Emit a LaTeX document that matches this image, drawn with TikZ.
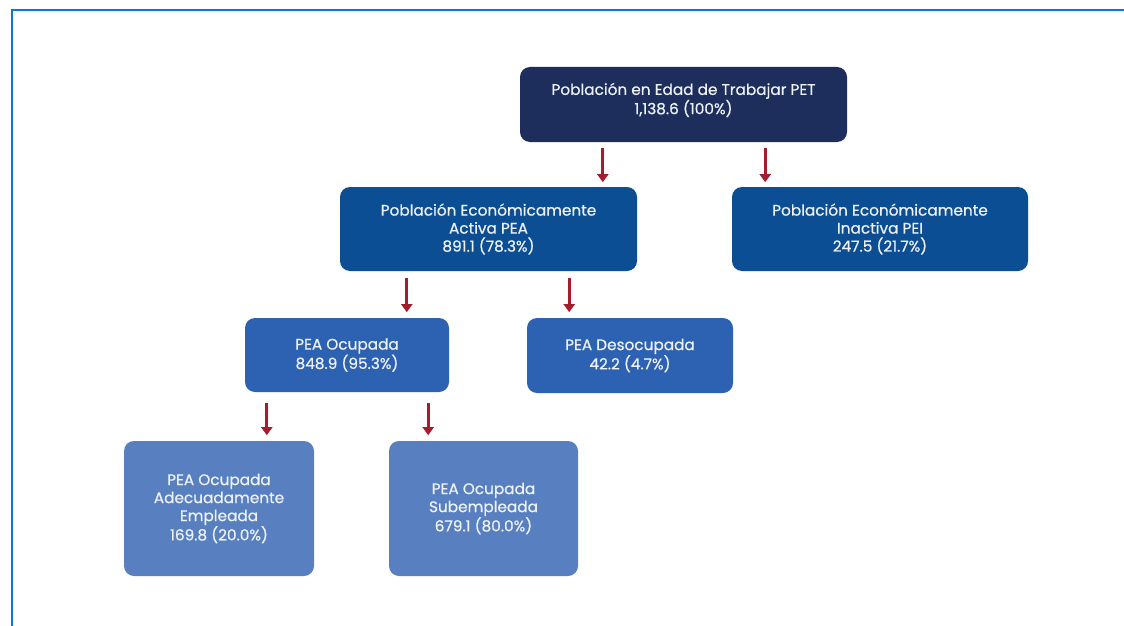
\documentclass[tikz,border=0pt]{standalone}
\usepackage{fontspec}
\setmainfont{Poppins}[FakeBold=0.6]
\usetikzlibrary{arrows.meta}

\definecolor{frameblue}{HTML}{0A7BC4}
\definecolor{petnavy}{HTML}{1D2D5C}
\definecolor{peablue}{HTML}{0B4E93}
\definecolor{ocublue}{HTML}{2D61B2}
\definecolor{subblue}{HTML}{5880C1}
\definecolor{boxtext}{HTML}{EEF2F8}
\definecolor{arrowred}{HTML}{A31D2C}

\begin{document}
\begin{tikzpicture}[x=1pt, y=-1pt,
  box/.style={rounded corners=10pt, text=boxtext, align=center,
    inner sep=0pt, font=\fontsize{15.3}{18}\selectfont},
  downarrow/.style={draw=arrowred, line width=3pt,
    -{Triangle[width=11pt,length=8pt]}}]
  \useasboundingbox (0,0) rectangle (1124,626);
  % frame
  \draw[frameblue, line width=2pt] (11.5,626) -- (11.5,10.5) -- (1124,10.5);

  % boxes
  \node[box, fill=petnavy, minimum width=327pt, minimum height=75pt]
    (pet) at (683.5,104.5) {Población en Edad de Trabajar PET\\1,138.6 (100\%)\\[-6pt]};
  \node[box, fill=peablue, minimum width=297pt, minimum height=84pt]
    (pea) at (488.5,229) {Población Económicamente\\Activa PEA\\891.1 (78.3\%)};
  \node[box, fill=peablue, minimum width=296pt, minimum height=84pt]
    (pei) at (880,229) {Población Económicamente\\Inactiva PEI\\247.5 (21.7\%)};
  \node[box, fill=ocublue, minimum width=204pt, minimum height=74pt]
    (ocupada) at (347,355) {PEA Ocupada\\848.9 (95.3\%)};
  \node[box, fill=ocublue, minimum width=206pt, minimum height=75pt]
    (desocupada) at (630,355.5) {PEA Desocupada\\42.2 (4.7\%)};
  \node[box, fill=subblue, minimum width=190pt, minimum height=135pt]
    (adecuada) at (219,508.5) {PEA Ocupada\\Adecuadamente\\Empleada\\169.8 (20.0\%)};
  \node[box, fill=subblue, minimum width=189pt, minimum height=135pt]
    (subempleada) at (483.5,508.5) {PEA Ocupada\\Subempleada\\679.1 (80.0\%)};

  % arrows
  \draw[downarrow] ([xshift=83pt,yshift=-6pt]pet.south west) -- ++(0,34);
  \draw[downarrow] ([xshift=-82pt,yshift=-6pt]pet.south east) -- ++(0,34);
  \draw[downarrow] ([xshift=67pt,yshift=-7pt]pea.south west) -- ++(0,34);
  \draw[downarrow] ([xshift=-68pt,yshift=-7pt]pea.south east) -- ++(0,34);
  \draw[downarrow] ([xshift=22pt,yshift=-11pt]ocupada.south west) -- ++(0,32);
  \draw[downarrow] ([xshift=-21pt,yshift=-11pt]ocupada.south east) -- ++(0,32);
\end{tikzpicture}
\end{document}
